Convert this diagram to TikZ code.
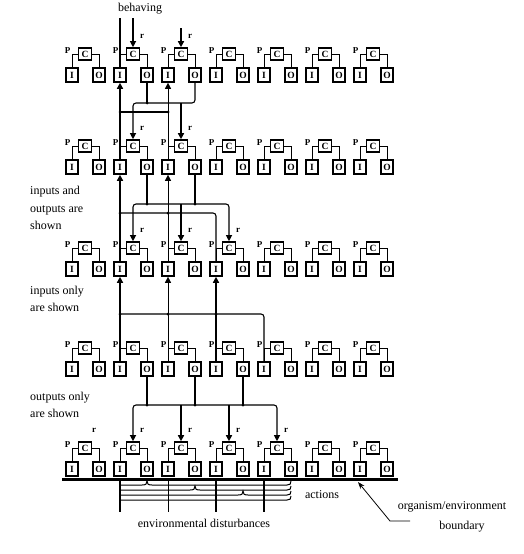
\documentclass[tikz,border=0pt]{standalone}
\usepackage{fontspec}
\setmainfont{Liberation Serif}
\usetikzlibrary{arrows.meta,calc}
\begin{document}
\begin{tikzpicture}[x=1pt,y=-1pt,
  iobox/.style={draw,line width=1.6pt,minimum width=12pt,minimum height=14pt,inner sep=0pt,font=\fontsize{9.5}{9.5}\selectfont\bfseries},
  cbox/.style={draw,line width=1.6pt,minimum width=13pt,minimum height=12pt,inner sep=0pt,font=\fontsize{9.5}{9.5}\selectfont\bfseries},
  conn/.style={line width=0.9pt},
  thk/.style={line width=1.7pt},
  thn/.style={line width=0.6pt},
  med/.style={line width=1.1pt},
  tip/.style={-{Triangle[length=6pt,width=6pt]}},
  tips/.style={{Triangle[length=6pt,width=6pt]}-{Triangle[length=6pt,width=6pt]}},
  lbl/.style={font=\fontsize{12}{17.5}\selectfont,align=left,anchor=west,inner sep=0pt},
  txt/.style={font=\fontsize{12}{14}\selectfont,inner sep=0pt},
  small/.style={font=\fontsize{9}{9}\selectfont\bfseries,inner sep=0pt},
  dot/.style={circle,fill,inner sep=0pt,minimum size=3pt},
  act/.style={line width=1pt}
]
\useasboundingbox (0,0) rectangle (523,554);

% ---------- units ----------
\foreach \r/\y in {1/75,2/167,3/269,4/369,5/469}{
  \foreach \k in {0,...,6}{
    \pgfmathsetmacro\ix{72+48*\k}
    \node[iobox] (I-\r-\k) at (\ix,\y) {I};
    \node[iobox] (O-\r-\k) at (\ix+27,\y) {O};
    \node[cbox] (C-\r-\k) at (\ix+13,\y-21) {C};
    \draw[conn] (C-\r-\k.west) -| (I-\r-\k.north);
    \draw[conn] (C-\r-\k.east) -| (O-\r-\k.north);
    \node[small] (P-\r-\k) at (\ix-4.5,\y-24) {P};
  }
}

% ---------- level coordinates ----------
\coordinate (topA) at (0,18);
\coordinate (topB) at (0,28);
\coordinate (hout1) at (0,103);
\coordinate (hin1) at (0,112);
\coordinate (hout2) at (0,204);
\coordinate (hin2) at (0,213);
\coordinate (hin3) at (0,314);
\coordinate (hout4) at (0,405);

% ---------- top ----------
\node[txt] (behav) at (140,9) {behaving};
\draw[thk] (I-1-1.north) -- (I-1-1 |- topA);
\draw[med,tip] (C-1-1 |- topA) -- (C-1-1.north);
\draw[thk,tip] (C-1-2 |- topB) -- (C-1-2.north);

% ---------- gap 1-2 ----------
\draw[thk,tip] (I-2-1.north) -- (I-1-1.south);
\draw[thn,tip] (I-2-2.north) -- (I-1-2.south);
\draw[thk] (I-1-1 |- hin1) -- (I-1-2 |- hin1);
\node[dot] (d1a) at (I-1-1 |- hin1) {};
\node[dot] (d1b) at (I-1-2 |- hin1) {};
\draw[med] (O-1-1.south) -- (O-1-1 |- hout1);
\draw[med,tip,rounded corners=3pt] (O-1-2.south) |- (C-2-1 |- hout1) -- (C-2-1.north);
\draw[thk,tip] (C-2-2 |- hout1) -- (C-2-2.north);
\node[dot] (d1c) at (O-1-1 |- hout1) {};

% ---------- gap 2-3 ----------
\draw[thk,tip] (I-3-1.north) -- (I-2-1.south);
\draw[thn,tip] (I-3-2.north) -- (I-2-2.south);
\draw[med,rounded corners=3pt] (I-3-3.north) |- (I-2-1 |- hin2);
\node[dot] (d2a) at (I-2-1 |- hin2) {};
\node[dot] (d2b) at (I-2-2 |- hin2) {};
\draw[med] (O-2-1.south) -- (O-2-1 |- hout2);
\draw[med] (O-2-2.south) -- (O-2-2 |- hout2);
\draw[med,tips,rounded corners=3pt] (C-3-1.north) |- (C-3-3 |- hout2) -- (C-3-3.north);
\draw[thk,tip] (C-3-2 |- hout2) -- (C-3-2.north);
\node[dot] (d2c) at (O-2-1 |- hout2) {};
\node[dot] (d2d) at (O-2-2 |- hout2) {};

% ---------- gap 3-4 ----------
\draw[thk,tip] (I-4-1.north) -- (I-3-1.south);
\draw[thn,tip] (I-4-2.north) -- (I-3-2.south);
\draw[thk,tip] (I-4-3.north) -- (I-3-3.south);
\draw[med,rounded corners=3pt] (I-4-4.north) |- (I-3-1 |- hin3);
\node[dot] (d3a) at (I-3-1 |- hin3) {};
\node[dot] (d3b) at (I-3-2 |- hin3) {};
\node[dot] (d3c) at (I-3-3 |- hin3) {};

% ---------- gap 4-5 ----------
\draw[med] (O-4-1.south) -- (O-4-1 |- hout4);
\draw[med] (O-4-2.south) -- (O-4-2 |- hout4);
\draw[thk] (O-4-3.south) -- (O-4-3 |- hout4);
\draw[med,tips,rounded corners=3pt] (C-5-1.north) |- (C-5-4 |- hout4) -- (C-5-4.north);
\draw[thk,tip] (C-5-2 |- hout4) -- (C-5-2.north);
\draw[thk,tip] (C-5-3 |- hout4) -- (C-5-3.north);
\node[dot] (d4a) at (O-4-1 |- hout4) {};
\node[dot] (d4b) at (O-4-2 |- hout4) {};
\node[dot] (d4c) at (O-4-3 |- hout4) {};

% ---------- r labels ----------
\foreach \r/\k in {1/1,1/2,2/1,2/2,3/1,3/2,3/3,5/0,5/1,5/2,5/3,5/4}{
  \node[small] (r-\r-\k) at ($(C-\r-\k.north)+(9,-11)$) {r};
}

% ---------- side labels ----------
\node[lbl] (lab1) at (30,208) {inputs and\\outputs are\\shown};
\node[lbl] (lab2) at (30,299) {inputs only\\are shown};
\node[lbl] (lab3) at (30,405) {outputs only\\are shown};

% ---------- boundary ----------
\coordinate (bndL) at (62,479);
\coordinate (bndR) at (398,479);
\draw[line width=3pt] (bndL) -- (bndR);
\coordinate (dtop) at (0,481);
\coordinate (dbot) at (0,512);
\draw[med] (I-5-1 |- dtop) -- (I-5-1 |- dbot);
\draw[thn] (I-5-2 |- dtop) -- (I-5-2 |- dbot);
\draw[med] (I-5-3 |- dtop) -- (I-5-3 |- dbot);
\draw[med] (I-5-4 |- dtop) -- (I-5-4 |- dbot);

% action braces
\foreach \yy/\tx in {485/147,490/195,495/243}{
  \draw[act] (120,\yy) -- (\tx-5,\yy) .. controls (\tx-1,\yy) and (\tx,\yy-1) .. (\tx,\yy-4)
     .. controls (\tx,\yy-1) and (\tx+1,\yy) .. (\tx+5,\yy) -- (287,\yy)
     .. controls (290,\yy) and (291,\yy-1) .. (291,\yy-4);
}
\draw[act] (120,500) -- (287,500) .. controls (290,500) and (291,499) .. (291,496);

\node[txt] (actions) at (322,495) {actions};
\node[txt] (envd) at (204,523) {environmental disturbances};
\node[txt] (orgenv) at (452,507) {organism/environment};
\node[txt] (bnd) at (462,527) {boundary};
\coordinate (arA) at (410,521);
\coordinate (arB) at (390,521);
\coordinate (arC) at (358,482);
\draw[line width=0.8pt,-{Stealth[length=7pt,width=5pt]}] (arA) -- (arB) -- (arC);
\end{tikzpicture}
\end{document}
